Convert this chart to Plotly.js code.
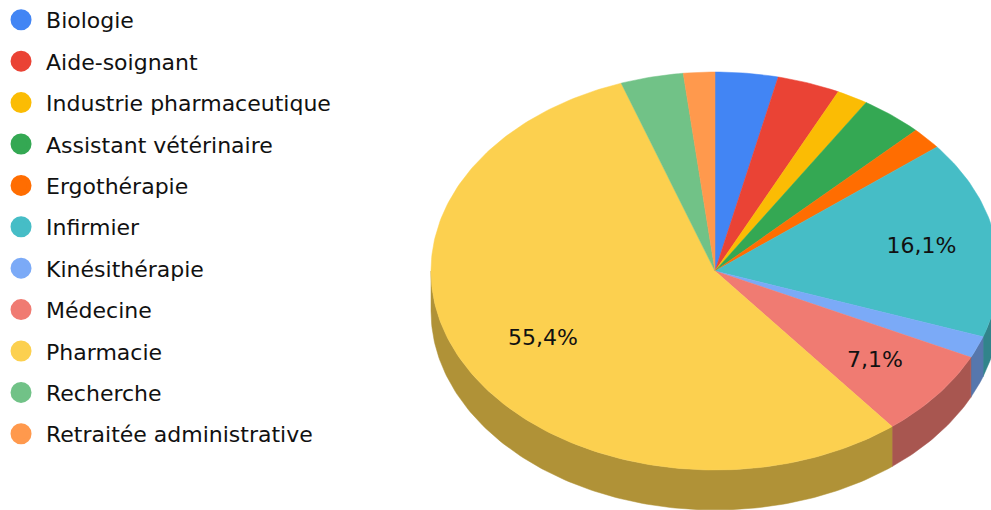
<!DOCTYPE html>
<html>
<head>
<meta charset="utf-8">
<script src="https://cdn.plot.ly/plotly-3.0.1.min.js"></script>
<style>html,body{margin:0;padding:0;background:#fff;overflow:hidden}</style>
</head>
<body>
<div id="chart" style="width:991px;height:510px"></div>
<script>
const categories = ["Biologie","Aide-soignant","Industrie pharmaceutique","Assistant vétérinaire","Ergothérapie","Infirmier","Kinésithérapie","Médecine","Pharmacie","Recherche","Retraitée administrative"];
const counts = [2,2,1,2,1,9,1,4,31,2,1];
const colors = ["#4285F4","#EA4335","#FBBC04","#34A853","#FF6D01","#46BDC6","#7BAAF7","#F07B72","#FCD04F","#71C287","#FF994D"];
const labelled = ["16,1%","7,1%","55,4%"];
const labelledIdx = [5,7,8];
const labelRadii = [0.737,0.72,0.692];

// Page geometry of the tilted disc
const W=991,H=510,cx=715,cy=271,rx=284,ry=199,depth=40,labelDy=1.5;
const total = counts.reduce((a,b)=>a+b,0);
const px = a => cx+rx*Math.sin(a);
const py = (a,d=0) => cy-ry*Math.cos(a)+d;
const dark = c => { const n=parseInt(c.slice(1),16);
  return `rgb(${Math.round((n>>16)*.7)},${Math.round(((n>>8)&255)*.7)},${Math.round((n&255)*.7)})`; };

const walls=[],tops=[],legend=[];
let cum=0;
const labX=[],labY=[];
counts.forEach((v,i)=>{
  const a0=cum/total*2*Math.PI, a1=(cum+v)/total*2*Math.PI; cum+=v;
  // top face
  const n=Math.max(4,Math.ceil((a1-a0)*60));
  const xs=[cx],ys=[cy];
  for(let k=0;k<=n;k++){const a=a0+(a1-a0)*k/n;xs.push(px(a));ys.push(py(a));}
  xs.push(cx);ys.push(cy);
  tops.push({x:xs,y:ys,mode:'lines',fill:'toself',fillcolor:colors[i],line:{color:colors[i],width:.5},hoverinfo:'skip',showlegend:false});
  // outer wall: only the front half of the rim
  const s=Math.max(a0,Math.PI/2), e=Math.min(a1,1.5*Math.PI);
  if(e>s){
    const wx=[],wy=[];const m=Math.max(3,Math.ceil((e-s)*60));
    for(let k=0;k<=m;k++){const a=s+(e-s)*k/m;wx.push(px(a));wy.push(py(a));}
    for(let k=m;k>=0;k--){const a=s+(e-s)*k/m;wx.push(px(a));wy.push(py(a,depth));}
    wx.push(wx[0]);wy.push(wy[0]);
    walls.push({x:wx,y:wy,mode:'lines',fill:'toself',fillcolor:dark(colors[i]),line:{color:dark(colors[i]),width:.5},hoverinfo:'skip',showlegend:false});
  }
  const li=labelledIdx.indexOf(i);
  if(li>=0){const m=(a0+a1)/2,r=labelRadii[li];labX.push(cx+rx*r*Math.sin(m));labY.push(cy-ry*r*Math.cos(m)+labelDy);}
  legend.push({x:[null],y:[null],mode:'markers',name:categories[i],legendgroup:'g'+i,
    marker:{color:colors[i],size:16,symbol:'circle',line:{color:colors[i],width:5}},hoverinfo:'skip'});
});
const labels={x:labX,y:labY,text:labelled,mode:'text',textposition:'middle center',
  textfont:{family:'"DejaVu Sans",sans-serif',size:22,color:'#111'},hoverinfo:'skip',showlegend:false};

Plotly.newPlot('chart',[...walls,...tops,labels,...legend],{
  width:W,height:H,margin:{l:0,r:0,t:0,b:0,autoexpand:false},paper_bgcolor:'#fff',plot_bgcolor:'#fff',
  xaxis:{range:[0,W],visible:false,fixedrange:true},
  yaxis:{range:[H,0],visible:false,fixedrange:true},
  showlegend:true,
  legend:{x:-0.004,xanchor:'left',y:1.002,yanchor:'top',traceorder:'grouped',tracegroupgap:9.8,itemsizing:'trace',itemwidth:40,maxheight:600,
    font:{family:'"DejaVu Sans",sans-serif',size:22,color:'#111'},bgcolor:'rgba(0,0,0,0)',borderwidth:0}
},{displayModeBar:false,staticPlot:true});
</script>
</body>
</html>
